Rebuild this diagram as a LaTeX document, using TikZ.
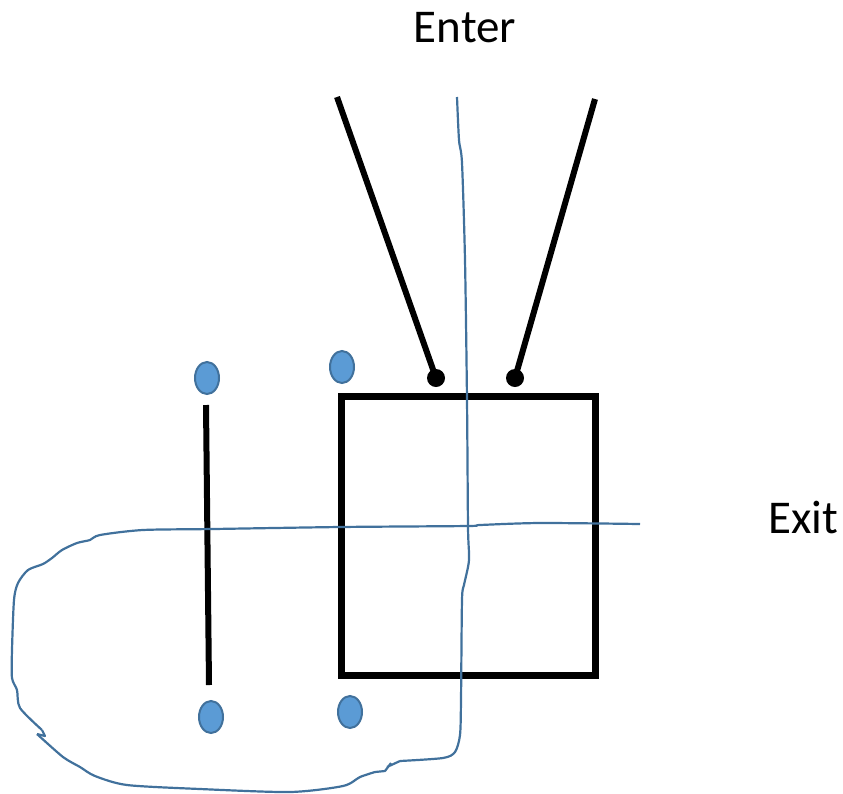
\documentclass[tikz,border=0pt]{standalone}
\usepackage{fontspec}
\setmainfont{Carlito}
\usetikzlibrary{shapes.geometric}
\definecolor{dotfill}{HTML}{5B9BD5}
\definecolor{dotedge}{HTML}{41719C}
\definecolor{pathblue}{HTML}{41719C}
\begin{document}
\begin{tikzpicture}[x=1pt,y=-1pt,
  label text/.style={font=\fontsize{47}{52}\selectfont},
  bead/.style={ellipse,fill=dotfill,draw=dotedge,line width=2pt,minimum width=24pt,minimum height=32pt,inner sep=0pt},
  knob/.style={circle,fill=black,minimum size=18pt,inner sep=0pt},
  bar/.style={line width=6pt},
  route/.style={draw=pathblue,line width=2.2pt,line join=round}]
\useasboundingbox (0,0) rectangle (843,793);

% labels
\node[label text] (enter) at (465,28) {Enter};
\node[label text] (exit) at (803,517) {Exit};

% box
\node[draw,line width=7pt,minimum width=254pt,minimum height=279pt,inner sep=0pt] (box) at (468,535.5) {};

% funnel arms ending in knobs
\node[knob] (kl) at (436,378) {};
\node[knob] (kr) at (515,378) {};
\coordinate (al) at (337,97);
\coordinate (ar) at (595,99);
\draw[bar] (al) -- (kl.center);
\draw[bar] (ar) -- (kr.center);

% left post
\coordinate (pt) at (206,405);
\coordinate (pb) at (209,685);
\draw[bar] (pt) -- (pb);

% beads
\node[bead] (b1) at (207,378) {};
\node[bead] (b2) at (342,367) {};
\node[bead] (b3) at (211,717) {};
\node[bead] (b4) at (350,712) {};

% hand-drawn route
\draw[route] plot[smooth,tension=0.45] coordinates {
  (457,97) (459,140) (462,163) (465,260) (467,400) (468,527)
  (469,560) (464,585) (462,600) (461,700) (460,735)
  (455,752) (443,758) (400,761)};
\draw[route] (400,761) -- (387,767) (391,763) -- (385,771) -- (375,772);
\draw[route] plot[smooth,tension=0.45] coordinates {
  (375,772) (360,777) (343,786) (290,792) (200,789) (127,785)
  (95,776) (80,767) (63,757) (37,734)};
\draw[route] (37,734) -- (45,736) -- (42,730);
\draw[route] plot[smooth,tension=0.45] coordinates {
  (42,730) (20,708) (17,690) (12,678) (12,650) (14,600)
  (18,583) (28,570) (43,564) (52,558) (62,550) (77,543)
  (90,540) (100,535) (143,530) (213,529) (340,527)
  (468,526) (480,525) (540,523) (640,524)};
\end{tikzpicture}
\end{document}
